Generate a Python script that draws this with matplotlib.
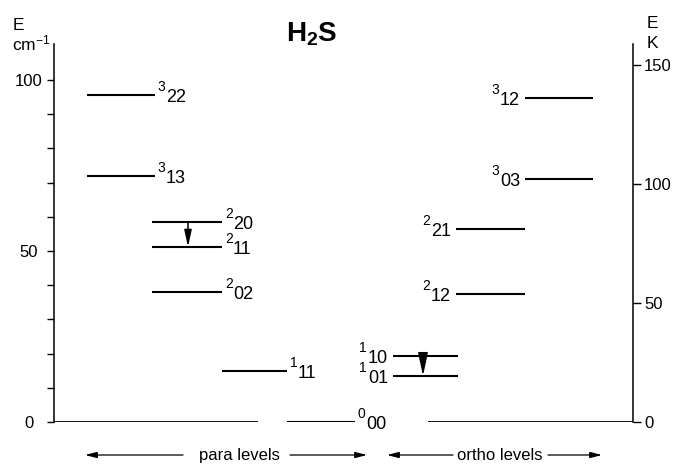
import matplotlib
matplotlib.use("Agg")
import matplotlib.pyplot as plt

plt.rcParams['font.family'] = ['Liberation Sans', 'DejaVu Sans']
plt.rcParams['mathtext.fontset'] = 'custom'
plt.rcParams['mathtext.rm'] = 'Liberation Sans'
plt.rcParams['mathtext.bf'] = 'Liberation Sans:bold'
plt.rcParams['mathtext.it'] = 'Liberation Sans:italic'

# ---- data (energies in cm^-1) ----
para_J = ["3", "3", "2", "2", "2", "1", "0"]
para_KaKc = ["22", "13", "20", "11", "02", "11", "00"]
para_E = [95.6, 71.9, 58.5, 51.2, 38.0, 14.9, 0.0]

ortho_J = ["3", "3", "2", "2", "1", "1"]
ortho_KaKc = ["12", "03", "21", "12", "10", "01"]
ortho_E = [94.7, 71.1, 56.4, 37.4, 19.3, 13.5]

# transitions (upper E, lower E)
para_trans = (58.5, 51.2)
ortho_trans = (19.3, 13.5)

cm_to_K = 1.4388
left_ticks = [0, 50, 100]
left_minor = [10, 20, 30, 40, 60, 70, 80, 90]
right_ticks = [0, 50, 100, 150]

# ---- layout ----
W, H = 677, 466
fig = plt.figure(figsize=(W / 100, H / 100), dpi=100)
ymax = 110.5
ax = fig.add_axes([54 / W, 44 / H, 579 / W, 378 / H])
ax.set_xlim(0, 1)
ax.set_ylim(0, ymax)

def fx(px):
    return (px - 54) / 579.0

# column extents (pixel -> axes fraction)
cols = {
    'A': (fx(87), fx(155)),
    'B': (fx(152), fx(222)),
    'C': (fx(222), fx(287)),
    'D': (fx(287), fx(355)),
    'E': (fx(393), fx(458)),
    'F': (fx(456), fx(525)),
    'G': (fx(525), fx(593)),
}
para_cols = ['A', 'A', 'B', 'B', 'B', 'C', 'D']
ortho_cols = ['G', 'G', 'F', 'F', 'E', 'E']

LW = 1.5
sup_fs, sub_fs = 10, 13

for J, k, E, c in zip(para_J, para_KaKc, para_E, para_cols):
    x0, x1 = cols[c]
    ax.hlines(E, x0, x1, color='black', lw=LW)
    ax.annotate(J, (x1, E), xytext=(2.0, 3.0), textcoords='offset points',
                ha='left', va='baseline', fontsize=sup_fs, annotation_clip=False)
    ax.annotate(k, (x1, E), xytext=(8.0, -4.9), textcoords='offset points',
                ha='left', va='baseline', fontsize=sub_fs, annotation_clip=False)

for J, k, E, c in zip(ortho_J, ortho_KaKc, ortho_E, ortho_cols):
    x0, x1 = cols[c]
    ax.hlines(E, x0, x1, color='black', lw=LW)
    ax.annotate(k, (x0, E), xytext=(-3.6, -4.9), textcoords='offset points',
                ha='right', va='baseline', fontsize=sub_fs, annotation_clip=False)
    ax.annotate(J, (x0, E), xytext=(-18.8, 3.0), textcoords='offset points',
                ha='right', va='baseline', fontsize=sup_fs, annotation_clip=False)

# zero baseline segments
ax.hlines(0, fx(54), fx(258), color='black', lw=1.3)
ax.hlines(0, fx(428), fx(633), color='black', lw=1.3)

# transition arrows
ax.annotate('', xy=(fx(188), para_trans[1]), xytext=(fx(188), para_trans[0]),
            arrowprops=dict(arrowstyle='-|>,head_length=1.0,head_width=0.22',
                            lw=1.1, color='black', shrinkA=0, shrinkB=0,
                            mutation_scale=10))
ax.annotate('', xy=(fx(423), ortho_trans[1]), xytext=(fx(423), ortho_trans[0]),
            arrowprops=dict(arrowstyle='-|>,head_length=1.4,head_width=0.3',
                            lw=1.1, color='black', shrinkA=0, shrinkB=0,
                            mutation_scale=10))

# bottom labels with arrows
yb = (422 - 455) / 3.42
aprops = dict(arrowstyle='-|>,head_length=0.7,head_width=0.18', lw=0.9,
              color='black', shrinkA=0, shrinkB=0, mutation_scale=10)
for (a0, a1), (b0, b1), txt, xc in [((183, 85), (290, 367), 'para levels', 239.5),
                                    ((453, 387), (548, 602), 'ortho levels', 500)]:
    ax.annotate('', xy=(fx(a1), yb), xytext=(fx(a0), yb), arrowprops=aprops,
                annotation_clip=False)
    ax.annotate('', xy=(fx(b1), yb), xytext=(fx(b0), yb), arrowprops=aprops,
                annotation_clip=False)
    ax.text(fx(xc), yb, txt, ha='center', va='center', fontsize=12, clip_on=False)

# left axis
for s in ['top', 'right', 'bottom']:
    ax.spines[s].set_visible(False)
ax.spines['left'].set_linewidth(1.1)
ax.set_xticks([])
ax.set_yticks(left_ticks)
ax.set_yticks(left_minor, minor=True)
ax.tick_params(axis='y', which='both', direction='out', length=5, width=1.0)
ax.tick_params(axis='y', which='major', pad=13, labelsize=12)
for lab in ax.get_yticklabels():
    lab.set_horizontalalignment('center')

# right axis (Kelvin)
ax2 = ax.twinx()
ax2.set_ylim(0, ymax * cm_to_K)
for s in ['top', 'left', 'bottom']:
    ax2.spines[s].set_visible(False)
ax2.spines['right'].set_linewidth(1.1)
ax2.set_yticks(right_ticks)
ax2.tick_params(axis='y', direction='out', length=6, width=1.0, pad=2, labelsize=12)

# axis titles
fig.text(13 / W, 1 - 30 / H, 'E', fontsize=12.5, ha='left', va='baseline')
fig.text(12 / W, 1 - 50 / H, 'cm$^{\\mathregular{-1}}$', fontsize=12.5, ha='left', va='baseline')
fig.text(647 / W, 1 - 28 / H, 'E', fontsize=12.5, ha='left', va='baseline')
fig.text(647 / W, 1 - 48 / H, 'K', fontsize=12.5, ha='left', va='baseline')

# title
fig.text(286 / W, 1 - 42 / H, r'$\mathbf{H_2S}$', fontsize=20, ha='left', va='baseline')

fig.savefig('out.png', dpi=100)
